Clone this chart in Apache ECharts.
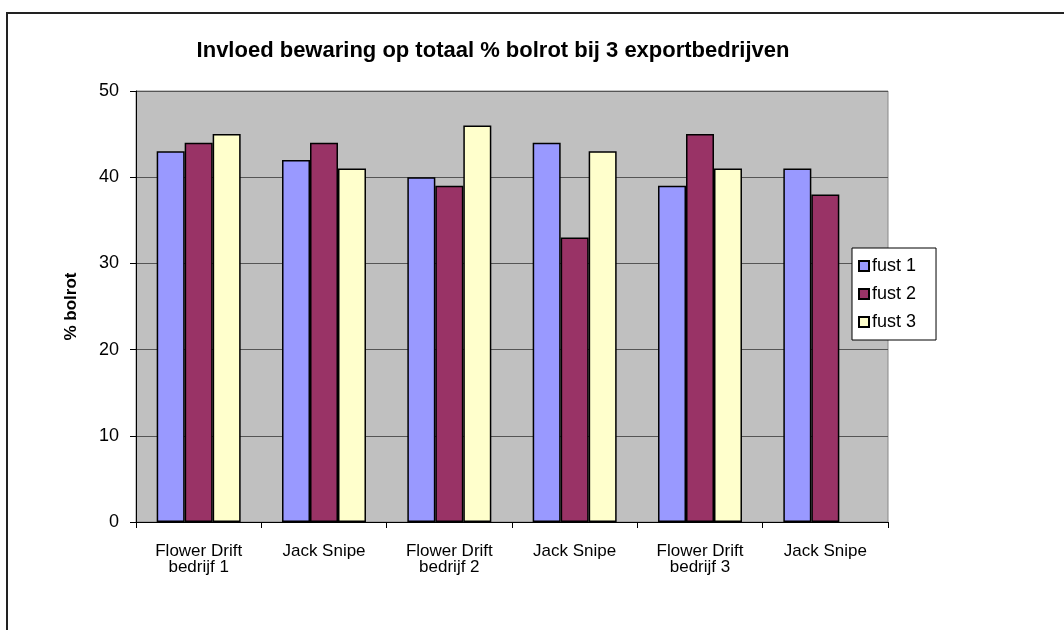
<!DOCTYPE html>
<html>
<head>
<meta charset="utf-8">
<script src="https://cdn.jsdelivr.net/npm/echarts@6/dist/echarts.min.js"></script>
<style>
  html, body { margin: 0; padding: 0; background: #fff; }
  #chart { width: 1064px; height: 630px; }
</style>
</head>
<body>
<div id="chart"></div>
<script>
const categories = [
  'Flower Drift\nbedrijf 1', 'Jack Snipe',
  'Flower Drift\nbedrijf 2', 'Jack Snipe',
  'Flower Drift\nbedrijf 3', 'Jack Snipe'
];
const fust1 = [43, 42, 40, 44, 39, 41];
const fust2 = [44, 44, 39, 33, 45, 38];
const fust3 = [45, 41, 46, 43, 41, null];
const seriesNames = ['fust 1', 'fust 2', 'fust 3'];
const seriesColors = ['#9999FF', '#993366', '#FFFFCC'];

const font = '"Liberation Sans", Arial, sans-serif';

const chart = echarts.init(document.getElementById('chart'));

function makeSeries (name, data, color) {
  return {
    name: name,
    type: 'bar',
    data: data,
    barGap: '0%',
    barCategoryGap: '33%',
    itemStyle: {
      color: color,
      borderColor: '#000',
      borderWidth: 1.5
    },
    animation: false
  };
}

let option = {
  backgroundColor: '#fff',
  animation: false,
  title: {
    text: 'Invloed bewaring op totaal % bolrot bij 3 exportbedrijven',
    left: 488,
    top: 35,
    textAlign: 'center',
    textStyle: {
      fontFamily: font,
      fontSize: 22,
      fontWeight: 'bold',
      color: '#000'
    }
  },
  legend: {
    orient: 'vertical',
    left: 852,
    top: 248,
    padding: [9, 20, 9, 6],
    itemGap: 10,
    itemWidth: 10,
    itemHeight: 10,
    icon: 'rect',
    backgroundColor: '#fff',
    borderColor: '#000',
    borderWidth: 1,
    textStyle: {
      fontFamily: font,
      fontSize: 18,
      color: '#000',
      padding: [0, 0, 0, -2]
    },
    data: seriesNames
  },
  grid: {
    left: 136,
    top: 91,
    width: 752,
    height: 431,
    show: true,
    backgroundColor: '#C0C0C0',
    borderColor: '#888',
    borderWidth: 1
  },
  xAxis: {
    type: 'category',
    data: categories,
    axisLine: { lineStyle: { color: '#000', width: 1 } },
    axisTick: { show: true, length: 6, lineStyle: { color: '#000' } },
    axisLabel: {
      fontFamily: font,
      fontSize: 17,
      color: '#000',
      margin: 21,
      lineHeight: 16
    }
  },
  yAxis: {
    type: 'value',
    min: 0,
    max: 50,
    interval: 10,
    name: '% bolrot',
    nameLocation: 'middle',
    nameGap: 56,
    nameTextStyle: {
      fontFamily: font,
      fontSize: 17,
      fontWeight: 'bold',
      color: '#000'
    },
    axisLine: { show: true, lineStyle: { color: '#000', width: 1 } },
    axisTick: { show: true, length: 6, lineStyle: { color: '#000' } },
    axisLabel: {
      fontFamily: font,
      fontSize: 18,
      color: '#000',
      margin: 17
    },
    splitLine: { show: true, lineStyle: { color: '#555', width: 1 } }
  },
  series: [
    makeSeries(seriesNames[0], fust1, seriesColors[0]),
    makeSeries(seriesNames[1], fust2, seriesColors[1]),
    makeSeries(seriesNames[2], fust3, seriesColors[2])
  ],
  graphic: [
    {
      type: 'rect',
      silent: true,
      shape: { x: 7, y: 13, width: 1200, height: 800 },
      style: { fill: 'none', stroke: '#222', lineWidth: 2 }
    }
  ]
};

chart.setOption(option);
</script>
</body>
</html>
